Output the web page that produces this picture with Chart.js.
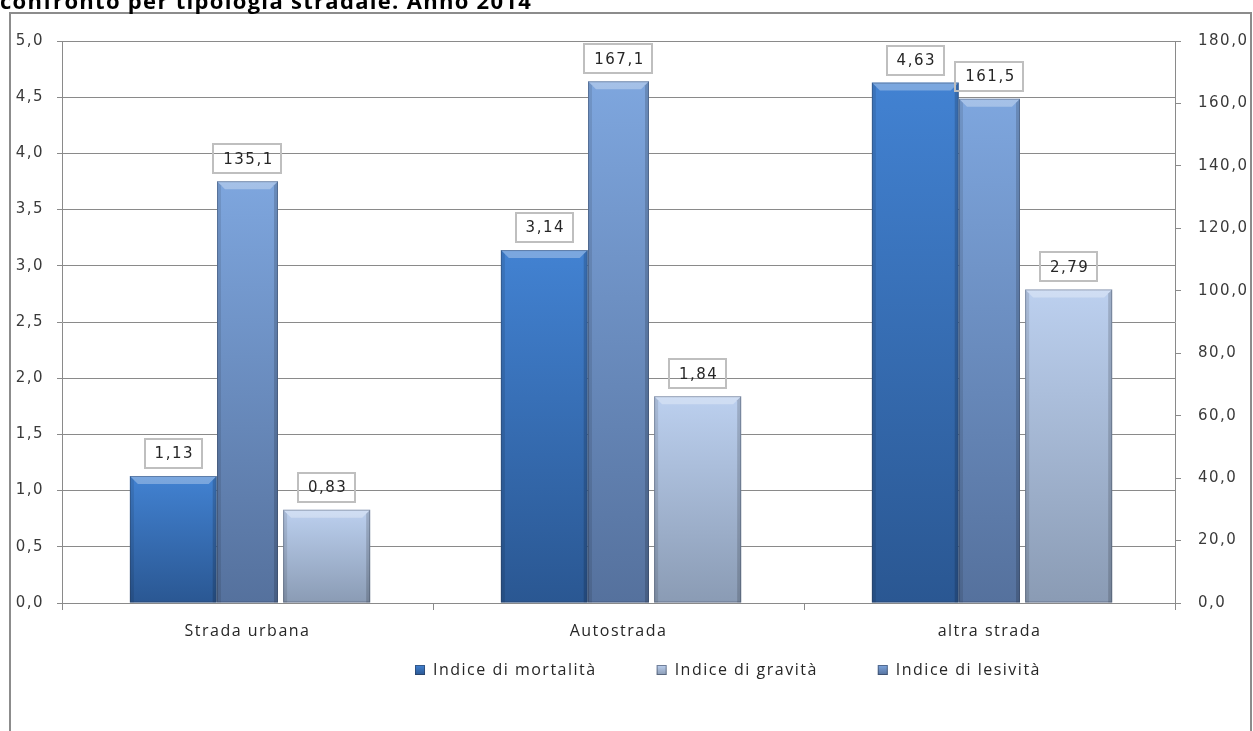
<!DOCTYPE html>
<html><head><meta charset="utf-8">
<script src="https://cdn.jsdelivr.net/npm/chart.js@4.4.1/dist/chart.umd.min.js"></script>
<style>html,body{margin:0;padding:0;background:#fff;overflow:hidden}#wrap{position:relative;width:1253px;height:731px}</style>
</head><body><div id="wrap"><canvas id="c" width="1253" height="731"></canvas></div>
<script>
const titleText = 'confronto per tipologia stradale. Anno 2014';
const categories = ['Strada urbana', 'Autostrada', 'altra strada'];
const seriesNames = ['Indice di mortalità', 'Indice di lesività', 'Indice di gravità'];
const mortalita = [1.13, 3.14, 4.63];
const lesivita = [135.1, 167.1, 161.5];
const gravita = [0.83, 1.84, 2.79];
const leftAxis = [0, 5, 0.5];
const rightAxis = [0, 180, 20];

const fmt = (v, d) => Number(v).toFixed(d).replace('.', ',');
const GRID = '#8a8a8a';
const TXT = '#262626';
const SPACING = '1.5px';

function grad(top, bottom) {
  return function (ctx) {
    if (ctx.type !== 'data') return top;
    const ch = ctx.chart;
    const ys = ch.scales[ctx.dataset.yAxisID];
    if (!ys) return top;
    const y0 = ys.getPixelForValue(ctx.raw), y1 = ys.getPixelForValue(0);
    if (!isFinite(y0) || !isFinite(y1) || y1 - y0 < 1) return top;
    const g = ch.ctx.createLinearGradient(0, y0, 0, y1);
    g.addColorStop(0, top); g.addColorStop(1, bottom);
    return g;
  };
}

const styles = [
  {top: '#4282d2', bottom: '#2a5792'},
  {top: '#7ea6de', bottom: '#55719d'},
  {top: '#bcd0ef', bottom: '#8a9bb4'}
];

const decor = {
  id: 'decor',
  beforeDraw(chart) {
    const c = chart.ctx;
    c.save(); c.fillStyle = '#fff'; c.fillRect(0, 0, chart.width, chart.height); c.restore();
    c.letterSpacing = SPACING;
  },
  afterDatasetsDraw(chart) {
    const c = chart.ctx;
    chart.data.datasets.forEach((ds, di) => {
      const meta = chart.getDatasetMeta(di);
      meta.data.forEach((bar, i) => {
        const w = bar.width, l = bar.x - w / 2, r = bar.x + w / 2, t = bar.y, b = bar.base;
        const bv = 8, e = 4;
        c.save();
        c.fillStyle = 'rgba(255,255,255,0.30)';
        c.beginPath(); c.moveTo(l, t); c.lineTo(r, t); c.lineTo(r - bv, t + bv); c.lineTo(l + bv, t + bv); c.closePath(); c.fill();
        c.fillStyle = 'rgba(0,0,0,0.10)';
        c.beginPath(); c.moveTo(l, t); c.lineTo(l + e, t + e); c.lineTo(l + e, b); c.lineTo(l, b); c.closePath(); c.fill();
        c.fillStyle = 'rgba(0,0,0,0.16)';
        c.beginPath(); c.moveTo(r, t); c.lineTo(r - e, t + e); c.lineTo(r - e, b); c.lineTo(r, b); c.closePath(); c.fill();
        c.strokeStyle = 'rgba(40,50,70,0.35)'; c.lineWidth = 1;
        c.strokeRect(l + 0.5, t + 0.5, w - 1, b - t - 1);
        // data label
        const txt = fmt(ds.data[i], ds.decimals);
        c.letterSpacing = SPACING;
        c.font = '15px "DejaVu Sans"';
        const tw = c.measureText(txt).width;
        const bw = tw + 18, bh = 29, by = t - 8 - bh;
        c.strokeStyle = '#bfbfbf'; c.lineWidth = 2;
        c.strokeRect(Math.round(bar.x - bw / 2), Math.round(by), Math.round(bw), bh);
        c.fillStyle = TXT; c.textAlign = 'center'; c.textBaseline = 'middle';
        c.fillText(txt, bar.x + 1, by + bh / 2 + 1);
        c.restore();
      });
    });
  },
  afterDraw(chart) {
    const c = chart.ctx;
    c.save();
    c.letterSpacing = SPACING;
    // frame
    c.strokeStyle = '#8c8c8c'; c.lineWidth = 2;
    c.beginPath(); c.moveTo(10, chart.height); c.lineTo(10, 13); c.lineTo(1251, 13); c.lineTo(1251, chart.height); c.stroke();
    // title
    c.fillStyle = '#000'; c.font = 'bold 22px "Open Sans"'; c.textAlign = 'left'; c.textBaseline = 'alphabetic';
    c.letterSpacing = '1.3px';
    c.fillText(titleText, 0, 9);
    c.letterSpacing = SPACING;
    // legend (order as in the reference)
    const order = [0, 2, 1];
    c.font = '16px "Open Sans"';
    const gap = 60, iconGap = 18;
    const widths = order.map(i => iconGap + c.measureText(chart.data.datasets[i].label).width);
    const total = widths.reduce((a, b) => a + b, 0) + gap * (order.length - 1);
    let x = 728 - total / 2;
    const yc = 670;
    order.forEach((di, k) => {
      const st = styles[di];
      const g = c.createLinearGradient(0, yc - 5, 0, yc + 5);
      g.addColorStop(0, st.top); g.addColorStop(1, st.bottom);
      c.fillStyle = g; c.fillRect(x, yc - 5, 10, 10);
      c.strokeStyle = 'rgba(40,50,70,0.5)'; c.lineWidth = 1; c.strokeRect(x + 0.5, yc - 4.5, 9, 9);
      c.fillStyle = TXT; c.textBaseline = 'middle';
      c.fillText(chart.data.datasets[di].label, x + iconGap, yc);
      x += widths[k] + gap;
    });
    c.restore();
  }
};

const tickFont = {family: '"DejaVu Sans"', size: 15};

new Chart(document.getElementById('c'), {
  type: 'bar',
  data: {
    labels: categories,
    datasets: [
      {label: seriesNames[0], data: mortalita, decimals: 2, yAxisID: 'y',
       backgroundColor: grad(styles[0].top, styles[0].bottom), borderWidth: 0,
       categoryPercentage: 0.60, barPercentage: 1.17},
      {label: seriesNames[1], data: lesivita, decimals: 1, yAxisID: 'y2',
       backgroundColor: grad(styles[1].top, styles[1].bottom), borderWidth: 0,
       categoryPercentage: 1, barPercentage: 0.493},
      {label: seriesNames[2], data: gravita, decimals: 2, yAxisID: 'y',
       backgroundColor: grad(styles[2].top, styles[2].bottom), borderWidth: 0,
       categoryPercentage: 0.64, barPercentage: 1.10}
    ]
  },
  options: {
    responsive: false, animation: false, devicePixelRatio: 1,
    layout: {padding: {top: 41, left: 0, right: 0, bottom: 0}},
    plugins: {legend: {display: false}, tooltip: {enabled: false}, title: {display: false}},
    scales: {
      x: {type: 'category', position: 'bottom', offset: true,
          grid: {offset: true, drawOnChartArea: false, drawTicks: true, tickLength: 7, color: GRID},
          border: {color: GRID, width: 1},
          ticks: {padding: 12, color: TXT, font: {family: '"Open Sans"', size: 16}, maxRotation: 0, autoSkip: false},
          afterFit(s) { s.height = 128; }},
      y: {position: 'left', min: leftAxis[0], max: leftAxis[1],
          ticks: {stepSize: leftAxis[2], callback: v => fmt(v, 1), padding: 13, color: '#3a3a3a', font: tickFont},
          grid: {color: GRID, tickLength: 5}, border: {color: GRID, width: 1},
          afterFit(s) { s.width = 62; }},
      y2: {position: 'right', min: rightAxis[0], max: rightAxis[1],
          ticks: {stepSize: rightAxis[2], callback: v => fmt(v, 1), padding: 17, color: '#3a3a3a', font: tickFont},
          grid: {drawOnChartArea: false, color: GRID, tickLength: 6}, border: {color: GRID, width: 1},
          afterFit(s) { s.width = 78; }}
    }
  },
  plugins: [decor]
});
</script>
</body></html>
